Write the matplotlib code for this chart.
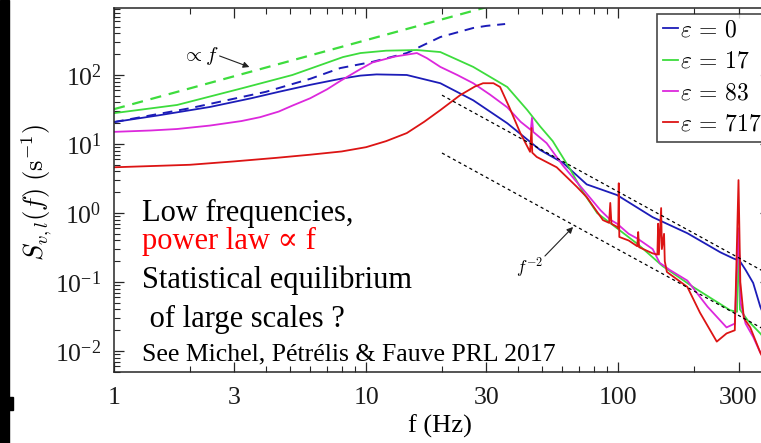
# Velocity spectra S_v,l(f) for several epsilon, log-log

import matplotlib
matplotlib.use('Agg')
import matplotlib.pyplot as plt
from matplotlib.patches import Rectangle
from matplotlib.ticker import FixedLocator, FixedFormatter, NullFormatter

plt.rcParams['font.family'] = ['Liberation Serif', 'DejaVu Serif']
plt.rcParams['mathtext.fontset'] = 'cm'

W, H = 761, 443

# --- data ---
labels = [r'$\varepsilon\,=\,0$', r'$\varepsilon\,=\,17$', r'$\varepsilon\,=\,83$', r'$\varepsilon\,=\,717$']

f_blue = [1, 1.5, 2.4, 3.5, 4.5, 6, 7.9, 9.5, 11, 14.5, 19.7, 26.6, 36.3, 49, 60.5, 75, 99,
          137, 188, 254, 286, 296, 300, 304, 320, 343, 366, 400]
s_blue = [20.8, 26, 34.4, 46, 57, 72, 88, 98, 102, 100, 76, 43, 20, 8.2, 5.3, 2.6, 1.82,
          0.87, 0.51, 0.27, 0.22, 0.21, 0.3, 0.2, 0.15, 0.097, 0.044, 0.02]

f_green = [1, 1.78, 3.25, 5.1, 8.1, 9.5, 12, 15.9, 19.7, 26.6, 36.3, 43.6, 49, 55, 64, 72.6,
           82.5, 99, 120, 150, 198, 278, 296, 300, 304, 326, 366, 400]
s_green = [28, 36.8, 64.8, 100, 182, 208, 225, 230, 215, 131, 67, 31, 18, 11, 4.5, 2.0,
           1.0, 0.6, 0.35, 0.17, 0.085, 0.039, 0.037, 0.5, 0.04, 0.028, 0.018, 0.012]

f_mag = [1, 1.4, 1.78, 2.4, 3.2, 3.8, 4.5, 5.1, 6, 7, 7.9, 9.5, 10.6, 13, 15.9, 17.4, 19.7, 23,
         26.6, 31, 36.3, 41, 45, 45.5, 46, 52, 60, 66, 75, 85, 93, 99, 110, 120, 137, 146, 160,
         188, 226, 269, 290, 300, 306, 320, 343, 366, 400]
s_mag = [15, 15.7, 16.5, 18.5, 21.5, 24.5, 29.5, 36, 46, 62, 82, 122, 152, 185, 208, 176, 131, 100,
         76, 52, 34, 21, 16, 24, 15, 10.3, 5, 3.3, 1.9, 1.1, 0.8, 0.7, 0.5, 0.42, 0.3, 0.19, 0.15,
         0.105, 0.044, 0.022, 0.025, 0.6, 0.05, 0.025, 0.016, 0.0095, 0.006]

f_red = [1, 2, 3, 4.4, 6, 8, 10, 12, 14.5, 17, 19.7, 23.6, 27, 29.1, 32, 34, 37, 40.9, 44.7,
         45.3, 45.6, 47.5, 57, 68.5, 75, 87, 92, 93, 94, 99, 100, 100.5, 101, 110, 119, 120, 121,
         137, 143, 144, 145, 148, 149, 152, 153, 156, 188, 211, 246, 269, 290, 300, 305, 315,
         334, 366, 400]
s_red = [4.6, 5.0, 5.6, 6.3, 7.0, 7.8, 9.0, 11, 14.4, 21, 31, 51, 68, 76, 76, 67, 34, 14.4, 7.7,
         17, 7.5, 6.5, 4.6, 2.4, 1.7, 0.79, 0.72, 1.4, 0.7, 0.63, 0.6, 2.7, 0.45, 0.4, 0.33, 0.53, 0.32,
         0.26, 0.25, 0.7, 0.25, 1.18, 0.3, 0.5, 0.2, 0.14, 0.085, 0.036, 0.0137, 0.018, 0.02, 3.0, 0.1, 0.03,
         0.022, 0.0095, 0.005]

# fits
f_blue_fit = [1, 2, 4, 6, 7.9, 10.6, 14.5, 19.7, 26.6, 30, 35.6]
s_blue_fit = [20.8, 33, 57, 88, 126, 155, 208, 355, 480, 515, 548]
f_green_fit = [1, 35]
s_green_fit = [32, 1120]
f_m2 = [20, 450]
s_m2_hi = [51, 0.1]
s_m2_lo = [7.4, 0.0146]

xticks = [1, 3, 10, 30, 100, 300]
xticklabels = ['1', '3', '10', '30', '100', '300']
yticks = [1e-2, 1e-1, 1e0, 1e1, 1e2]
yticklabels = [r'$\mathregular{10^{-2}}$', r'$\mathregular{10^{-1}}$', r'$\mathregular{10^{0}}$',
               r'$\mathregular{10^{1}}$', r'$\mathregular{10^{2}}$']

c_blue = '#1c1cb8'
c_green = '#3ddc3d'
c_mag = '#dc28dc'
c_red = '#dc1414'

fig = plt.figure(figsize=(W / 100, H / 100), dpi=100)
ax = fig.add_axes([114 / W, (H - 372) / H, 656 / W, 364 / H])
ax.set_xscale('log')
ax.set_yscale('log')

ax.plot(f_green_fit, s_green_fit, '--', color=c_green, lw=1.6, dashes=(5, 3.5))
ax.plot(f_blue_fit, s_blue_fit, '--', color=c_blue, lw=1.4, dashes=(5, 3.5))
ax.plot(f_blue, s_blue, color=c_blue, lw=1.3, label=labels[0])
ax.plot(f_green, s_green, color=c_green, lw=1.3, label=labels[1])
ax.plot(f_mag, s_mag, color=c_mag, lw=1.3, label=labels[2])
ax.plot(f_red, s_red, color=c_red, lw=1.3, label=labels[3])
ax.plot(f_m2, s_m2_hi, color='k', lw=0.9, dashes=(2.5, 2.5))
ax.plot(f_m2, s_m2_lo, color='k', lw=0.9, dashes=(2.5, 2.5))

ax.set_xlim(1, 400)
ax.set_ylim(4.97e-3, 935)

ax.xaxis.set_major_locator(FixedLocator(xticks))
ax.xaxis.set_major_formatter(FixedFormatter(xticklabels))
minor_x = [m * d for d in [1, 10, 100] for m in range(2, 10) if m * d not in xticks and m * d <= 400]
ax.xaxis.set_minor_locator(FixedLocator(minor_x))
ax.xaxis.set_minor_formatter(NullFormatter())
ax.yaxis.set_major_locator(FixedLocator(yticks))
ax.yaxis.set_major_formatter(FixedFormatter(yticklabels))
minor_y = [m * d for d in [1e-3, 1e-2, 1e-1, 1, 10, 100] for m in range(2, 10)]
ax.yaxis.set_minor_locator(FixedLocator(minor_y))
ax.yaxis.set_minor_formatter(NullFormatter())

ax.tick_params(which='both', direction='in', top=True, right=True, color='#262626')
ax.tick_params(which='major', length=7, width=0.9)
ax.tick_params(which='minor', length=4, width=0.8)
ax.tick_params(axis='x', which='major', pad=11, labelsize=18.5, labelcolor='#1a1a1a')
ax.tick_params(axis='y', which='major', pad=9, labelsize=18.5, labelcolor='#1a1a1a')
for sp in ax.spines.values():
    sp.set_color('#262626')
    sp.set_linewidth(1.1)

leg = ax.legend(loc='upper left', bbox_to_anchor=(657 / W, 1 - 14 / H), bbox_transform=fig.transFigure,
                fontsize=17, handlelength=0.62, handletextpad=0.1, borderpad=0.25,
                labelspacing=0.42, frameon=True, fancybox=False, borderaxespad=0)
leg.get_frame().set_edgecolor('#1a1a1a')
leg.get_frame().set_linewidth(1.2)

# axis labels
fig.text(37 / W, 1 - 192 / H, r'$S_{v,l}(f)\;(\mathrm{s}^{-1})$', rotation=90,
         ha='center', va='center', fontsize=19)
fig.text(440 / W, 1 - 433 / H, 'f (Hz)', ha='center', va='baseline', fontsize=19)

# annotations
fig.text(182 / W, 1 - 61 / H, r'$\propto f$', fontsize=15, va='baseline')
ax.annotate('', xy=(252 / W, 1 - 68 / H), xytext=(217 / W, 1 - 55 / H),
            xycoords='figure fraction', textcoords='figure fraction',
            arrowprops=dict(arrowstyle='-|>', color='#222222', lw=0.8, mutation_scale=9))
fig.text(516 / W, 1 - 273 / H, r'$f^{-2}$', fontsize=12.5, va='baseline')
ax.annotate('', xy=(575 / W, 1 - 225 / H), xytext=(543 / W, 1 - 258 / H),
            xycoords='figure fraction', textcoords='figure fraction',
            arrowprops=dict(arrowstyle='-|>', color='#222222', lw=0.8, mutation_scale=9))

# slide text
fig.text(142 / W, 1 - 221 / H, 'Low frequencies,', fontsize=22, va='baseline')
fig.text(142 / W, 1 - 249 / H, 'power law \u221d f', fontsize=22, va='baseline', color='#ff0000')
fig.text(142 / W, 1 - 288 / H, 'Statistical equilibrium', fontsize=22, va='baseline')
fig.text(142 / W, 1 - 327 / H, ' of large scales ?', fontsize=22, va='baseline')
fig.text(142 / W, 1 - 360 / H, 'See Michel, P\u00e9tr\u00e9lis & Fauve PRL 2017', fontsize=18.5, va='baseline')

# black bar at the left edge
fig.patches.append(Rectangle((0, 0), 9 / W, 1, transform=fig.transFigure, color='black'))
fig.patches.append(Rectangle((0, 1 - 410 / H), 13 / W, 13 / H, transform=fig.transFigure, color='black'))

fig.savefig('out.png', dpi=100)
